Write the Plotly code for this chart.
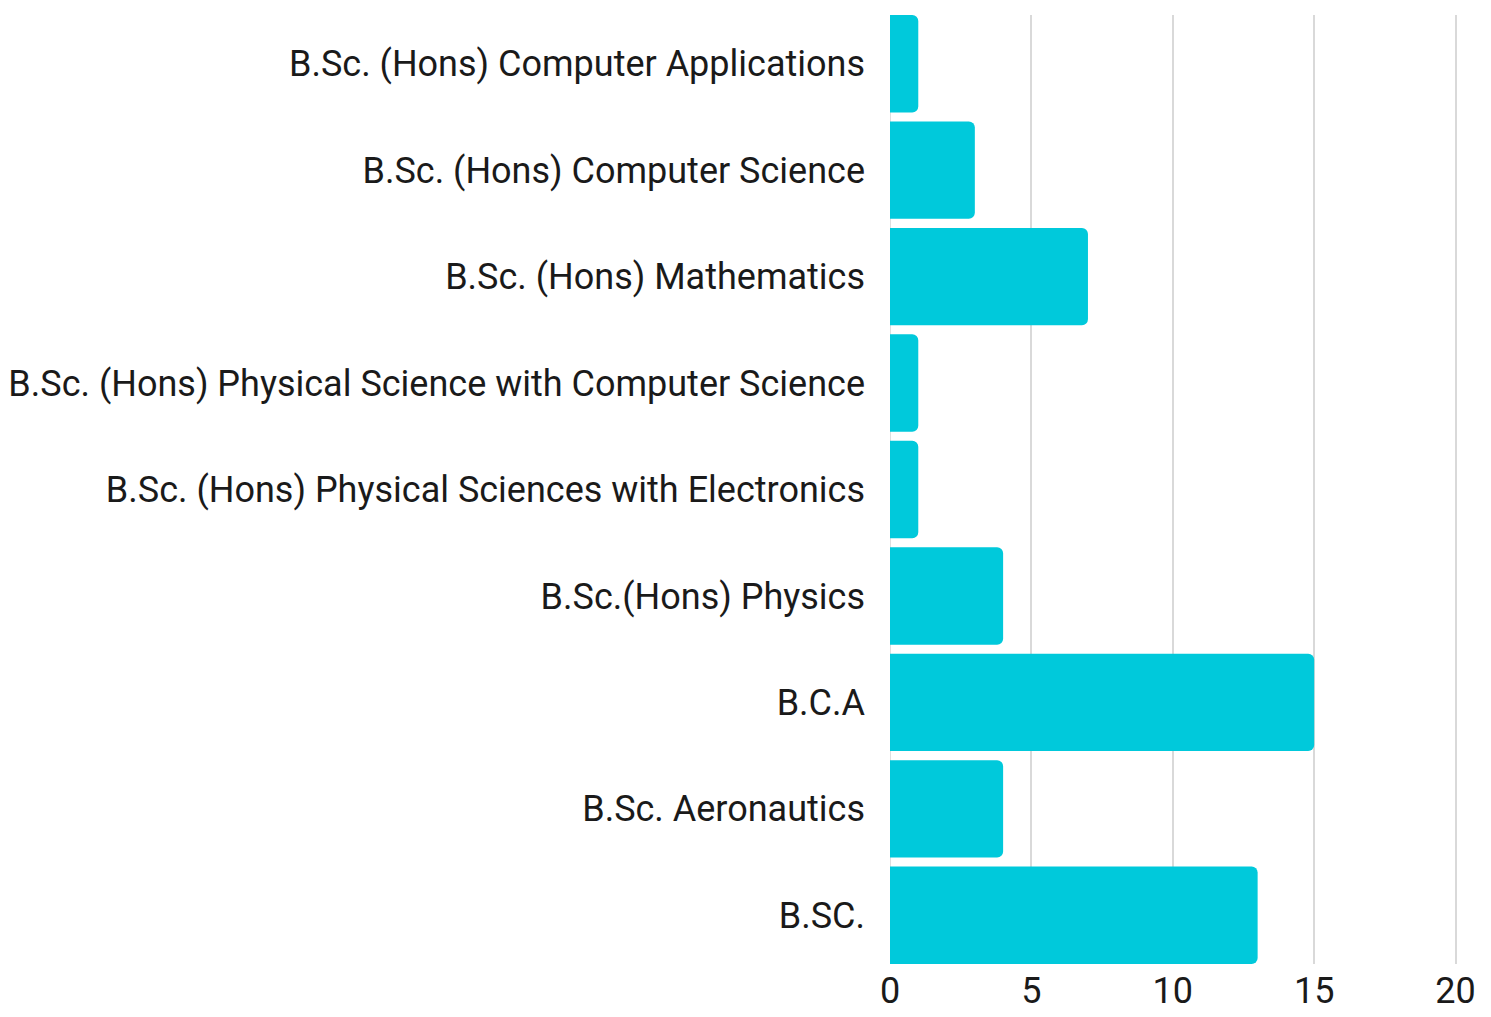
import plotly.graph_objects as go

categories = [
    "B.Sc. (Hons) Computer Applications",
    "B.Sc. (Hons) Computer Science",
    "B.Sc. (Hons) Mathematics",
    "B.Sc. (Hons) Physical Science with Computer Science",
    "B.Sc. (Hons) Physical Sciences with Electronics",
    "B.Sc.(Hons) Physics",
    "B.C.A",
    "B.Sc. Aeronautics",
    "B.SC.",
]
values = [1, 3, 7, 1, 1, 4, 15, 4, 13]
x_ticks = [0, 5, 10, 15, 20]

font_family = "Roboto, sans-serif"
bargap = 0.085
half = (1 - bargap) / 2

fig = go.Figure(go.Bar(
    x=values, y=categories, orientation="h",
    marker=dict(color="#00C9DB", cornerradius=6, line=dict(width=0)),
    hoverinfo="x+y",
))

fig.update_layout(
    width=1483, height=1009,
    margin=dict(l=882, r=34, t=7, b=53),
    paper_bgcolor="white", plot_bgcolor="white",
    bargap=bargap,
    showlegend=False,
    font=dict(family=font_family, size=36, color="#1a1a1a"),
)
fig.update_xaxes(
    range=[0, 20.05], tickvals=x_ticks, ticktext=[str(t) for t in x_ticks],
    showgrid=True, gridcolor="#d9d9d9", gridwidth=1.5,
    zeroline=False, showline=False, automargin=False,
    ticks="", ticklabelstandoff=2,
    tickfont=dict(size=36, family=font_family, color="#1a1a1a"),
)
fig.update_yaxes(
    range=[len(categories) - 1 + half, -half],
    showgrid=False, zeroline=False, automargin=False,
    showline=False, ticks="", ticklabelstandoff=24,
    tickfont=dict(size=36, family=font_family, color="#1a1a1a"),
)
fig.add_shape(type="line", xref="x", yref="paper", x0=0, x1=0, y0=0, y1=1,
              line=dict(color="#bdbdbd", width=1), layer="below")

fig.write_html("out.html")
